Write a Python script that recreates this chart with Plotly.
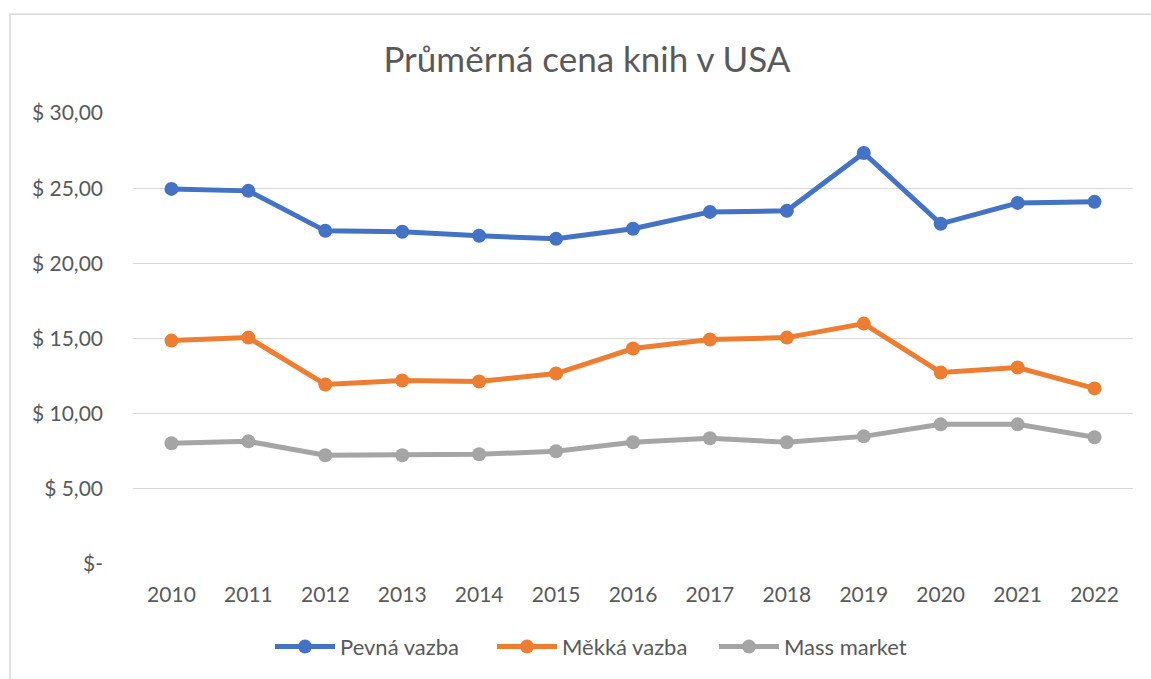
import plotly.graph_objects as go

years = ["2010", "2011", "2012", "2013", "2014", "2015", "2016", "2017", "2018", "2019", "2020", "2021", "2022"]
pevna = [24.95, 24.82, 22.16, 22.10, 21.83, 21.63, 22.30, 23.42, 23.49, 27.34, 22.63, 24.02, 24.09]
mekka = [14.86, 15.06, 11.94, 12.21, 12.14, 12.67, 14.33, 14.93, 15.06, 15.99, 12.74, 13.07, 11.68]
mass = [8.03, 8.16, 7.23, 7.23, 7.30, 7.50, 8.10, 8.36, 8.10, 8.49, 9.29, 9.29, 8.43]
series_names = ["Pevná vazba", "Měkká vazba", "Mass market"]
colors = ["#4472C4", "#ED7D31", "#A5A5A5"]
tick_vals = [0, 5, 10, 15, 20, 25, 30]
tick_text = ["$-", "$ 5,00", "$ 10,00", "$ 15,00", "$ 20,00", "$ 25,00", "$ 30,00"]

FONT = "Lato"
fig = go.Figure()
for name, vals, c in zip(series_names, [pevna, mekka, mass], colors):
    fig.add_trace(go.Scatter(
        x=years, y=vals, name=name, mode="lines+markers",
        line=dict(color=c, width=5),
        marker=dict(color=c, size=14),
    ))

fig.update_layout(
    width=1151, height=679,
    margin=dict(l=133, r=18, t=113, b=114),
    paper_bgcolor="white", plot_bgcolor="white",
    font=dict(family=FONT, color="#595959", size=21),
    title=dict(text="Průměrná cena knih v USA", x=0.454, xref="paper", xanchor="center",
               y=1 - 60 / 679, yref="container", yanchor="middle",
               font=dict(family=FONT, size=35, color="#595959")),
    showlegend=True,
    legend=dict(orientation="h", x=0.470, xanchor="center", y=-0.181, yanchor="middle",
                font=dict(family=FONT, size=22, color="#595959"),
                itemwidth=60, entrywidth=147, entrywidthmode="pixels", tracegroupgap=0),
    xaxis=dict(type="category", range=[-0.5, 12.5], showgrid=False, zeroline=False,
               showline=False, ticks="", ticklabelstandoff=16,
               tickfont=dict(family=FONT, size=21, color="#595959")),
    yaxis=dict(range=[0, 30], tickvals=tick_vals, ticktext=tick_text,
               showgrid=True, gridcolor="#D9D9D9", gridwidth=1.3, zeroline=False,
               showline=False, ticks="", ticklabelstandoff=29,
               tickfont=dict(family=FONT, size=21, color="#595959")),
    shapes=[dict(type="rect", xref="paper", yref="paper",
                 x0=-0.123, x1=1.2, y0=-0.5, y1=1.219,
                 line=dict(color="#D9D9D9", width=1.5), fillcolor="rgba(0,0,0,0)",
                 layer="below")],
)
fig.write_html("out.html", config={"displayModeBar": False},
               post_script="document.body.style.margin='0px';document.body.style.padding='0px';")
